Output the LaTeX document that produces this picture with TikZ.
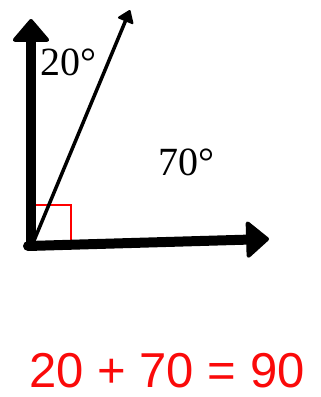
\documentclass[tikz,border=0pt]{standalone}
\usepackage{fontspec}
\setmainfont{Liberation Serif}
\newfontfamily\eqfont{Liberation Sans}
\usetikzlibrary{arrows.meta}
\definecolor{eqred}{RGB}{250,10,10}
\tikzset{
  bigarrow/.style={line width=10pt, line cap=round,
    -{Triangle[round, width=40pt, length=24pt, line width=4pt]}},
  thinarrow/.style={line width=3.5pt,
    -{Triangle[round, width=18pt, length=13pt, line width=2pt]}},
  anglelabel/.style={font=\fontsize{40}{40}\selectfont, inner sep=0pt}
}
\begin{document}
\begin{tikzpicture}[x=1pt, y=-1pt]
      \useasboundingbox (0,0) rectangle (321,397);
      \coordinate (o) at (31,245);
      \coordinate (top) at (31,19);
      \coordinate (right) at (269,239);
      \coordinate (ray) at (130,10);
      % right angle mark
      \draw[red, line width=1.5pt] (35,240) |- (71,205) -- (71,240);
      \draw[bigarrow] (o) -- (top);
      \draw[bigarrow] (28,246) -- (right);
      \draw[thinarrow] (33,243) -- (ray);
      \node[anglelabel] (a20) at (68,62) {20°};
      \node[anglelabel] (a70) at (186,162) {70°};
      \node[text=eqred, inner sep=2pt, font=\eqfont\fontsize{49}{49}\selectfont]
        (sum) at (167,371) {20 + 70 = 90};
    \end{tikzpicture}
\end{document}
